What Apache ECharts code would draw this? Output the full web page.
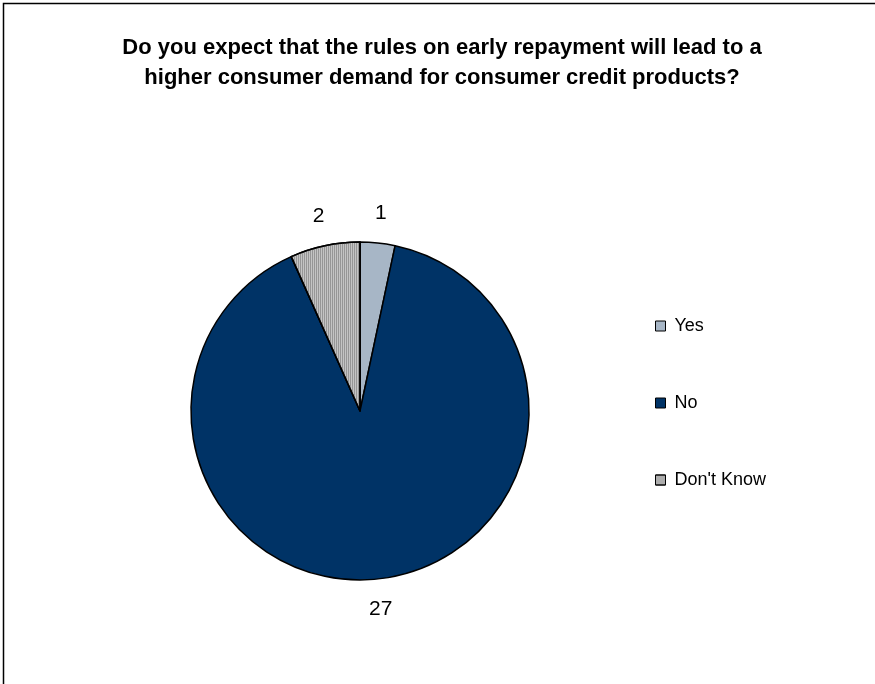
<!DOCTYPE html>
<html>
<head>
<meta charset="utf-8">
<script src="https://cdn.jsdelivr.net/npm/echarts@6/dist/echarts.min.js"></script>
<style>html,body{margin:0;padding:0;background:#fff;}#c{width:875px;height:684px;}</style>
</head>
<body>
<div id="c"></div>
<script>
var titleText = 'Do you expect that the rules on early repayment will lead to a\nhigher consumer demand for consumer credit products?';
var categories = ['Yes', 'No', "Don't Know"];
var values = [1, 27, 2];
var colors = ['#A7B6C6', '#003366', '#C4C4C4'];

var FONT = 'Liberation Sans, Arial, sans-serif';
var chart = echarts.init(document.getElementById('c'));
var data = categories.map(function (name, i) {
  var item = { name: name, value: values[i], itemStyle: { color: colors[i] } };
  if (i === 2) {
    item.itemStyle.decal = {
      symbol: 'rect',
      dashArrayX: [1, 1],
      dashArrayY: [4, 0],
      symbolSize: 1,
      color: 'rgba(120,120,120,0.6)',
      rotation: 0
    };
  }
  return item;
});
var labelData = categories.map(function (name, i) {
  return { name: name + ' (label)', value: values[i] };
});
chart.setOption({
  backgroundColor: '#fff',
  animation: false,
  title: {
    text: titleText,
    left: 437,
    textAlign: 'center',
    top: 28,
    textStyle: { fontFamily: FONT, fontWeight: 'bold', fontSize: 22, lineHeight: 30, color: '#000' }
  },
  legend: {
    orient: 'vertical',
    left: 650,
    top: 311,
    itemGap: 57,
    itemWidth: 10,
    itemHeight: 10,
    icon: 'rect',
    itemStyle: { borderColor: '#000', borderWidth: 1 },
    textStyle: { fontFamily: FONT, fontSize: 18, lineHeight: 20, color: '#000', padding: [0, 0, 0, 4] },
    data: categories
  },
  graphic: [{
    type: 'rect',
    shape: { x: 3.5, y: 3.5, width: 900, height: 700 },
    style: { fill: 'none', stroke: '#000', lineWidth: 1.5 },
    silent: true
  }],
  series: [{
    type: 'pie',
    center: [360, 411],
    radius: [0, 169],
    startAngle: 90,
    clockwise: true,
    avoidLabelOverlap: false,
    itemStyle: { borderColor: '#000', borderWidth: 1.5 },
    label: { show: false },
    labelLine: { show: false },
    emphasis: { disabled: true },
    data: data
  }, {
    type: 'pie',
    center: [360, 411],
    radius: [186, 206],
    startAngle: 90,
    clockwise: true,
    silent: true,
    avoidLabelOverlap: false,
    itemStyle: { color: 'rgba(0,0,0,0)', borderWidth: 0 },
    label: {
      show: true,
      position: 'inside',
      formatter: '{c}',
      fontFamily: FONT,
      fontSize: 21,
      color: '#000'
    },
    labelLine: { show: false },
    emphasis: { disabled: true },
    data: labelData
  }]
});
</script>
</body>
</html>
